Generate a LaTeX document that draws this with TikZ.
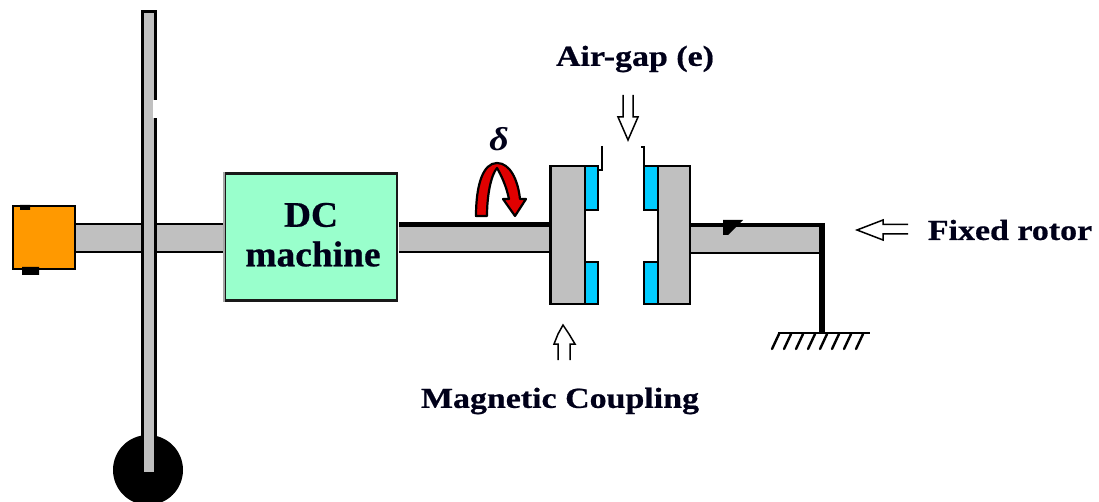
\documentclass[tikz,border=0pt]{standalone}
\usepackage{graphicx}
\usepackage{fontspec}
\setmainfont{Liberation Serif}[BoldFeatures={FakeBold=0.6}]
\definecolor{shaftgray}{HTML}{C0C0C0}
\definecolor{motorgreen}{HTML}{99FFCC}
\definecolor{encorange}{HTML}{FF9900}
\definecolor{magblue}{HTML}{00CCFF}
\definecolor{arrowred}{HTML}{E00000}
\newcommand{\wide}[2][1.17]{\scalebox{#1}[1]{#2}}
\tikzset{
  part/.style={draw=black,fill=shaftgray,line width=2.6pt},
  magnet/.style={draw=black,fill=magblue,line width=2.4pt},
  hollow/.style={draw=black,fill=white,line width=1.5pt,line join=miter},
  lbl/.style={font=\bfseries,inner sep=0pt,text=black!90!blue},
  lblbig/.style={lbl,font=\bfseries\fontsize{36}{36}\selectfont},
  lblmid/.style={lbl,font=\bfseries\fontsize{29}{29}\selectfont},
}
\begin{document}
\begin{tikzpicture}[x=1pt,y=-1pt]
\useasboundingbox (0,0) rectangle (1099,502);
\begin{scope}
\clip (0,0) rectangle (1099,502);
\fill[black] (148,470) circle (35);
\end{scope}
% left shaft
\draw[part,line width=2pt] (75,224) rectangle (224,252);
% vertical rod
\fill[shaftgray] (143,11) rectangle (155,472);
\draw[black,line width=3pt] (142.5,472) -- (142.5,11.5) -- (155.5,11.5) -- (155.5,472);
\fill[white] (153,100) rectangle (159,118);
\fill[shaftgray] (144,100) rectangle (153,118);
\fill[shaftgray] (144,434) rectangle (154,472);
% encoder
\node[draw=black,fill=encorange,line width=2.4pt,minimum width=62pt,minimum height=63pt,inner sep=0pt] (enc) at (44,237.5) {};
\fill[black] (20,205) rectangle (30,210) (22,267) rectangle (39,275);
% middle shaft
\fill[shaftgray] (399,224) rectangle (549,252);
\draw[black,line width=4.5pt] (399,224.5) -- (549,224.5);
\draw[black,line width=2.6pt] (399,252) -- (549,252);
% DC machine
\node[fill=motorgreen,draw=black!90,line width=2.4pt,minimum width=172pt,minimum height=127pt,inner sep=0pt] (dc) at (311,237) {};
\draw[black!35,line width=2.4pt] (dc.south west) -- (dc.north west);
\node[lblbig] (dc1) at (311,215) {\wide[1.04]{DC}};
\node[lblbig] (dc2) at (313,254) {\wide[1.04]{machine}};
% left plate
\draw[part] (550.5,166) rectangle (585,304);
\draw[magnet] (585,166) rectangle (598,210);
\draw[magnet] (585,262) rectangle (598,304);
% right plate
\draw[part] (658,166) rectangle (690,304);
\draw[magnet] (644,166) rectangle (658,210);
\draw[magnet] (644,262) rectangle (658,304);
% gap ticks
\draw[black,line width=1.4pt] (602,146) -- (602,170) -- (597,170);
\draw[black,line width=1.4pt] (641,147) -- (644,147) -- (644,166);
% right shaft
\fill[shaftgray] (691,226) rectangle (820,253);
\draw[black,line width=4pt] (691,225) -- (824,225);
\draw[black,line width=1.6pt] (691,253) -- (821,253);
\draw[black,line width=6pt] (822,223) -- (822,333);
\fill[black] (723,220) -- (743,220) -- (728,235) -- (723,235) -- cycle;
% ground
\coordinate (g1) at (778,333);
\coordinate (g2) at (870,333);
\draw[black,line width=1.4pt] (g1) -- (g2);
\foreach \x in {779,791,803,815,827,839,851,863}
  \draw[black,line width=2.4pt,line cap=round] (\x,334) -- (\x-7,349);
% hollow arrows
\draw[hollow] (623,95) -- (623,117) -- (618,117) -- (628,140) -- (638,117) -- (633,117) -- (633,95);
\draw[hollow] (908,224.5) -- (883,224.5) -- (883,220) -- (857,230) -- (883,240) -- (883,234) -- (908,234);
\draw[hollow] (558,360) -- (558,344) -- (554,344) -- (558,334) -- (563,325) -- (569,334) -- (575,344) -- (570,344) -- (570,360);
% red arrow
\draw[black,fill=arrowred,line width=2.2pt,line join=round] (476,216) .. controls (476,185) and (483,163) .. (497,163) .. controls (510,163) and (518,180) .. (520,199) -- (526,199) -- (515,216) -- (503,199) -- (509,199) .. controls (506,185) and (501,175) .. (497,168) .. controls (491,175) and (487,195) .. (487,216) -- cycle;
% labels
\node[lblmid] (air) at (635,59) {\wide{Air-gap (e)}};
\node[lblmid] (fix) at (1010,230) {\wide{Fixed rotor}};
\node[lblmid] (mag) at (560,401) {\wide{Magnetic Coupling}};
\node[lbl,font=\bfseries\itshape\fontsize{33}{33}\selectfont] (del) at (499,139) {\wide[1.15]{δ}};
\end{tikzpicture}
\end{document}
